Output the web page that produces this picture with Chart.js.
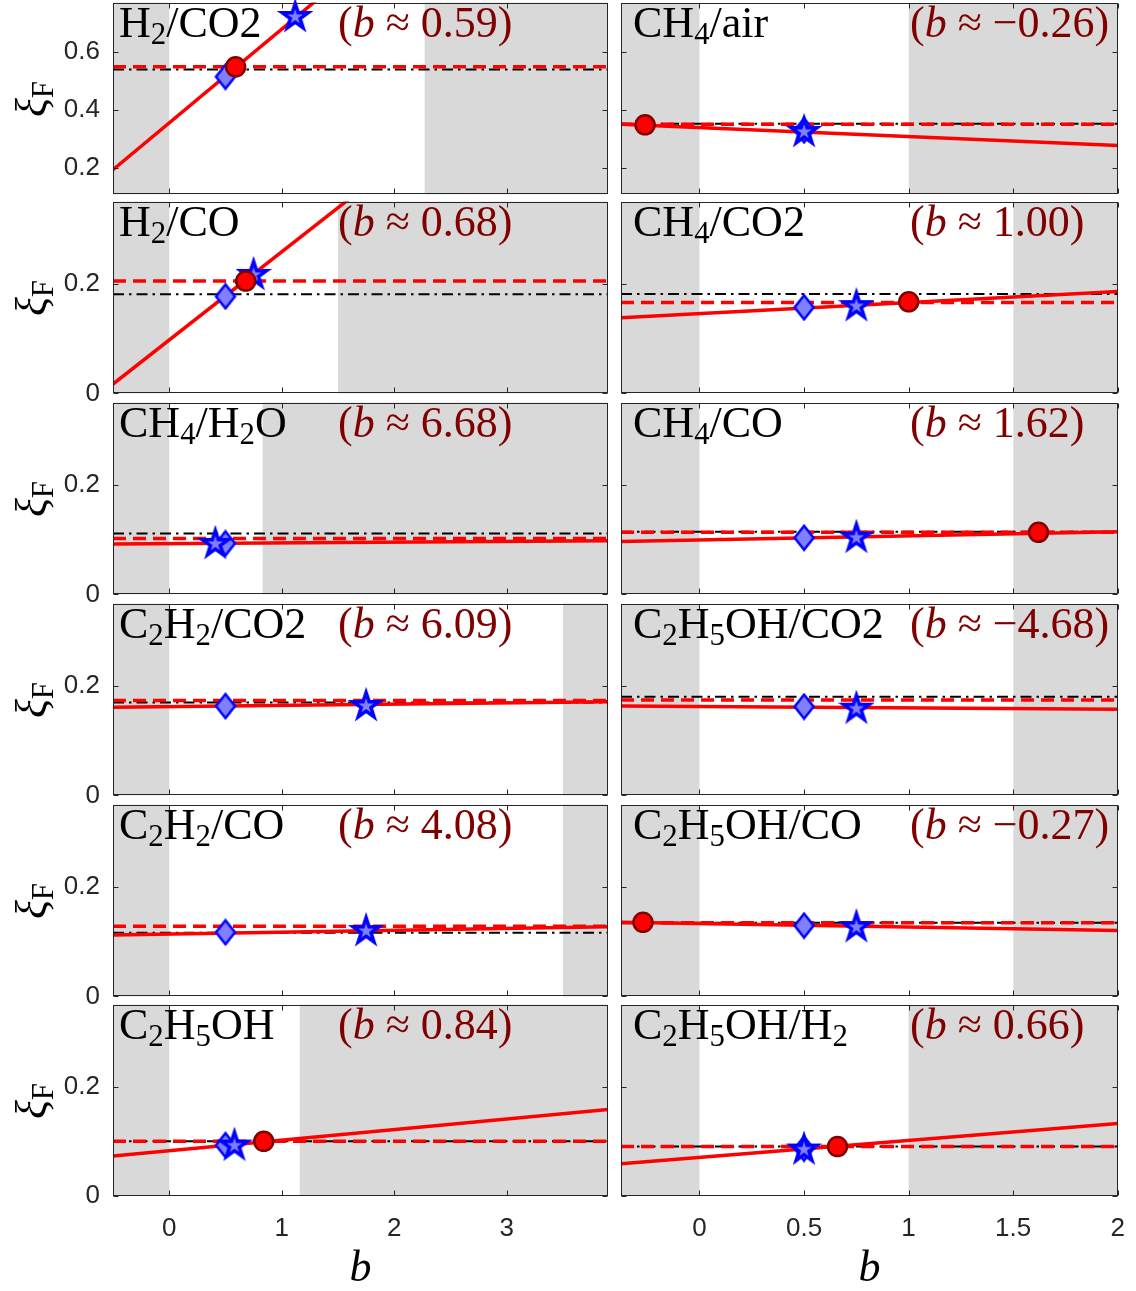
<!DOCTYPE html>
<html>
<head>
<meta charset="utf-8">
<script src="https://cdn.jsdelivr.net/npm/chart.js@4.4.1/dist/chart.umd.min.js"></script>
<style>
body { margin: 0; background: #fff; }
#fig { position: relative; width: 1136px; height: 1291px; overflow: hidden; }
#fig canvas { position: absolute; }
.name, .best { position: absolute; font-family: "Liberation Serif", "DejaVu Serif", serif; font-size: 44px; line-height: 44px; white-space: nowrap; }
.name { color: #000; }
.best { color: #800000; }
sub { font-size: 0.7em; vertical-align: -0.22em; line-height: 0; }
.ylab { position: absolute; font-family: "Liberation Serif", "DejaVu Serif", serif; font-size: 44px; line-height: 44px; white-space: nowrap; transform: translate(-50%, -50%) rotate(-90deg); }
.xlab { position: absolute; font-family: "Liberation Serif", "DejaVu Serif", serif; font-size: 44px; line-height: 44px; font-style: italic; transform: translateX(-50%); }
</style>
</head>
<body>
<div id="fig"></div>
<script>
// panels are listed row by row, left column first
const panelNames = [
    "H<sub>2</sub>/CO2", "CH<sub>4</sub>/air",
    "H<sub>2</sub>/CO", "CH<sub>4</sub>/CO2",
    "CH<sub>4</sub>/H<sub>2</sub>O", "CH<sub>4</sub>/CO",
    "C<sub>2</sub>H<sub>2</sub>/CO2", "C<sub>2</sub>H<sub>5</sub>OH/CO2",
    "C<sub>2</sub>H<sub>2</sub>/CO", "C<sub>2</sub>H<sub>5</sub>OH/CO",
    "C<sub>2</sub>H<sub>5</sub>OH", "C<sub>2</sub>H<sub>5</sub>OH/H<sub>2</sub>"
];
const bApprox = ["0.59", "\u22120.26", "0.68", "1.00", "6.68", "1.62", "6.09", "\u22124.68", "4.08", "\u22120.27", "0.84", "0.66"];

// linear fit, value at the left and right end of the b axis
const fitStart = [0.195, 0.351, 0.017, 0.138, 0.092, 0.096, 0.161, 0.163, 0.112, 0.135, 0.073, 0.059];
const fitEnd = [1.614, 0.278, 0.725, 0.186, 0.098, 0.114, 0.171, 0.157, 0.127, 0.120, 0.158, 0.133];
const dashedLevel = [0.549, 0.351, 0.205, 0.166, 0.102, 0.113, 0.173, 0.174, 0.128, 0.134, 0.100, 0.0905];
const dashDotLevel = [0.540, 0.353, 0.181, 0.1815, 0.111, 0.114, 0.1695, 0.180, 0.116, 0.134, 0.100, 0.0905];

const diamondB = [0.5, 0.5, 0.5, 0.5, 0.5, 0.5, 0.5, 0.5, 0.5, 0.5, 0.5, 0.5];
const diamondXi = [0.515, 0.330, 0.177, 0.157, 0.093, 0.103, 0.163, 0.162, 0.117, 0.129, 0.093, 0.087];
const starB = [1.12, 0.5, 0.75, 0.75, 0.41, 0.75, 1.75, 0.75, 1.75, 0.75, 0.58, 0.5];
const starXi = [0.724, 0.328, 0.218, 0.161, 0.094, 0.105, 0.165, 0.160, 0.121, 0.128, 0.094, 0.087];
const circleB = [0.59, -0.26, 0.68, 1.00, null, 1.62, null, null, null, -0.27, 0.84, 0.66];
const circleXi = [0.549, 0.349, 0.205, 0.167, null, 0.113, null, null, null, 0.135, 0.100, 0.0905];

// grey band: from the left end to 0, and from shadeFrom to the right end
const shadeFrom = [2.27, 1.0, 1.5, 1.5, 0.83, 1.5, 3.5, 1.5, 3.5, 1.5, 1.16, 1.0];

const bLimitsLeft = [-0.5, 3.9];
const bLimitsRight = [-0.375, 2];
const bStep = [1, 0.5];
const xiLimitsFirstRow = [0.11, 0.77];
const xiLimitsOtherRows = [0, 0.35];
const xiStep = 0.2;

// layout
const plotLeft = [113, 621];
const plotRight = [608, 1118];
const rowTop = [3, 202, 403, 604, 805, 1005];
const plotH = 191;
const yAxisW = [113, 9];
const xAxisH = 95;

const fig = document.getElementById("fig");

function makeStar() {
    const c = document.createElement("canvas");
    c.width = 36; c.height = 36;
    const ctx = c.getContext("2d");
    const R = 13.5, r = R * 0.382;
    ctx.beginPath();
    for (let k = 0; k < 10; k++) {
        const a = -Math.PI / 2 + k * Math.PI / 5;
        const rr = k % 2 === 0 ? R : r;
        const px = 18 + rr * Math.cos(a), py = 19 + rr * Math.sin(a);
        if (k === 0) ctx.moveTo(px, py); else ctx.lineTo(px, py);
    }
    ctx.closePath();
    ctx.fillStyle = "#8080ff";
    ctx.fill();
    ctx.lineWidth = 3.5;
    ctx.strokeStyle = "#0000ff";
    ctx.stroke();
    return c;
}

function makeDiamond() {
    const c = document.createElement("canvas");
    c.width = 24; c.height = 28;
    const ctx = c.getContext("2d");
    ctx.beginPath();
    ctx.moveTo(12, 2);
    ctx.lineTo(21.5, 14);
    ctx.lineTo(12, 26);
    ctx.lineTo(2.5, 14);
    ctx.closePath();
    ctx.fillStyle = "#8080ff";
    ctx.fill();
    ctx.lineWidth = 2.5;
    ctx.strokeStyle = "#0000ff";
    ctx.stroke();
    return c;
}

const starImg = makeStar();
const diamondImg = makeDiamond();

const bandsPlugin = {
    id: "bands",
    beforeDatasetsDraw(chart, args, opts) {
        const { ctx, chartArea } = chart;
        const x = chart.scales.x;
        ctx.save();
        ctx.fillStyle = "#d9d9d9";
        opts.regions.forEach(reg => {
            const a = Math.max(x.getPixelForValue(reg[0]), chartArea.left);
            const b = Math.min(x.getPixelForValue(reg[1]), chartArea.right);
            if (b > a) ctx.fillRect(a, chartArea.top, b - a, chartArea.bottom - chartArea.top);
        });
        ctx.restore();
    }
};

const framePlugin = {
    id: "frame",
    afterDatasetsDraw(chart) {
        const { ctx, chartArea } = chart;
        const l = Math.round(chartArea.left) + 0.5, r = Math.round(chartArea.right) - 0.5;
        const t = Math.round(chartArea.top) + 0.5, btm = Math.round(chartArea.bottom) - 0.5;
        const len = 5;
        ctx.save();
        ctx.strokeStyle = "#262626";
        ctx.lineWidth = 1;
        ctx.strokeRect(l, t, r - l, btm - t);
        ctx.beginPath();
        chart.scales.x.ticks.forEach(tk => {
            const px = Math.round(chart.scales.x.getPixelForValue(tk.value)) + 0.5;
            ctx.moveTo(px, btm); ctx.lineTo(px, btm - len);
            ctx.moveTo(px, t); ctx.lineTo(px, t + len);
        });
        chart.scales.y.ticks.forEach(tk => {
            const py = Math.round(chart.scales.y.getPixelForValue(tk.value)) + 0.5;
            ctx.moveTo(l, py); ctx.lineTo(l + len, py);
            ctx.moveTo(r, py); ctx.lineTo(r - len, py);
        });
        ctx.stroke();
        ctx.restore();
    }
};

function tickText(v) {
    return String(Math.round(v * 100) / 100);
}

function addText(cls, html, left, top) {
    const d = document.createElement("div");
    d.className = cls;
    d.innerHTML = html;
    d.style.left = left + "px";
    d.style.top = top + "px";
    fig.appendChild(d);
}

function makeConfig(i) {
    const row = Math.floor(i / 2);
    const col = i % 2;
    const last = row === rowTop.length - 1;
    const bLim = col === 0 ? bLimitsLeft : bLimitsRight;
    const xiLim = row === 0 ? xiLimitsFirstRow : xiLimitsOtherRows;

    const markers = [];
    if (circleB[i] !== null) {
        markers.push({
            data: [{ x: circleB[i], y: circleXi[i] }],
            pointStyle: "circle",
            pointRadius: 9.5,
            pointBackgroundColor: "#ff0000",
            pointBorderColor: "#800000",
            pointBorderWidth: 2.5,
            clip: false,
            order: 0
        });
    }

    return {
        type: "scatter",
        data: {
            datasets: markers.concat([
                {
                    data: [{ x: starB[i], y: starXi[i] }],
                    pointStyle: starImg,
                    pointRadius: 10,
                    clip: false,
                    order: 1
                },
                {
                    data: [{ x: diamondB[i], y: diamondXi[i] }],
                    pointStyle: diamondImg,
                    pointRadius: 10,
                    clip: false,
                    order: 2
                },
                {
                    data: [{ x: bLim[0], y: fitStart[i] }, { x: bLim[1], y: fitEnd[i] }],
                    showLine: true,
                    pointRadius: 0,
                    borderColor: "#ff0000",
                    borderWidth: 3.5,
                    order: 3
                },
                {
                    data: [{ x: bLim[0], y: dashedLevel[i] }, { x: bLim[1], y: dashedLevel[i] }],
                    showLine: true,
                    pointRadius: 0,
                    borderColor: "#ff0000",
                    borderWidth: 3.5,
                    borderDash: [13, 7],
                    order: 4
                },
                {
                    data: [{ x: bLim[0], y: dashDotLevel[i] }, { x: bLim[1], y: dashDotLevel[i] }],
                    showLine: true,
                    pointRadius: 0,
                    borderColor: "#000000",
                    borderWidth: 2,
                    borderDash: [11, 5, 2.5, 5],
                    order: 5
                }
            ])
        },
        options: {
            responsive: false,
            animation: false,
            devicePixelRatio: 1,
            events: [],
            layout: { padding: 0 },
            plugins: {
                legend: { display: false },
                tooltip: { enabled: false },
                bands: { regions: [[bLim[0], 0], [shadeFrom[i], bLim[1]]] }
            },
            scales: {
                x: {
                    type: "linear",
                    min: bLim[0],
                    max: bLim[1],
                    grid: { display: false, drawTicks: false },
                    border: { display: false },
                    ticks: {
                        display: last,
                        stepSize: bStep[col],
                        includeBounds: false,
                        maxRotation: 0,
                        padding: 17,
                        color: "#262626",
                        font: { family: "Liberation Sans", size: 26 },
                        callback: tickText
                    },
                    afterFit: s => { s.height = last ? xAxisH : 0; }
                },
                y: {
                    type: "linear",
                    min: xiLim[0],
                    max: xiLim[1],
                    grid: { display: false, drawTicks: false },
                    border: { display: false },
                    ticks: {
                        display: col === 0,
                        stepSize: xiStep,
                        includeBounds: false,
                        padding: 13,
                        color: "#262626",
                        font: { family: "Liberation Sans", size: 26 },
                        callback: tickText
                    },
                    afterFit: s => { s.width = yAxisW[col]; }
                }
            }
        },
        plugins: [bandsPlugin, framePlugin]
    };
}

function placeCanvas(canvas, left, top, w, h) {
    canvas.width = w;
    canvas.height = h;
    canvas.style.left = left + "px";
    canvas.style.top = top + "px";
    canvas.style.width = w + "px";
    canvas.style.height = h + "px";
}

for (let i = 0; i < panelNames.length; i++) {
    const row = Math.floor(i / 2);
    const col = i % 2;
    const plotW = plotRight[col] - plotLeft[col];

    const canvas = document.createElement("canvas");
    fig.appendChild(canvas);
    placeCanvas(canvas, 0, 0, plotW + 200, plotH + 200);

    // first pass: find how much room the axes take, then place the canvas so the plot box lands in its slot
    let chart = new Chart(canvas, makeConfig(i));
    const ca = chart.chartArea;
    const insetL = Math.round(ca.left);
    const insetT = Math.round(ca.top);
    const insetR = Math.round(canvas.width - ca.right);
    const insetB = Math.round(canvas.height - ca.bottom);
    chart.destroy();

    placeCanvas(canvas, plotLeft[col] - insetL, rowTop[row] - insetT,
        plotW + insetL + insetR, plotH + insetT + insetB);
    chart = new Chart(canvas, makeConfig(i));

    addText("name", panelNames[i], plotLeft[col] + (col === 0 ? 6 : 12), rowTop[row] - 2);
    addText("best", "(<i>b</i> \u2248 " + bApprox[i] + ")", col === 0 ? 338 : 910, rowTop[row] - 2);
    if (col === 0) {
        addText("ylab", "<i>\u03be</i><sub>F</sub>", 32, rowTop[row] + plotH / 2);
    }
}

addText("xlab", "b", (plotLeft[0] + plotRight[0]) / 2, 1245);
addText("xlab", "b", (plotLeft[1] + plotRight[1]) / 2, 1245);
</script>
</body>
</html>
